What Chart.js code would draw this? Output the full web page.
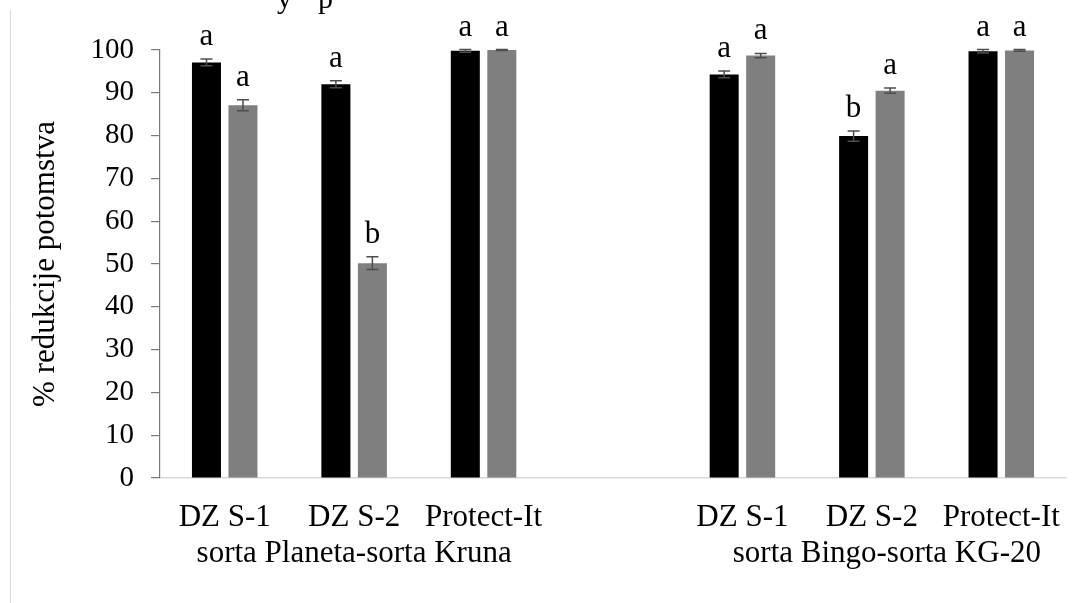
<!DOCTYPE html>
<html>
<head>
<meta charset="utf-8">
<script src="https://cdn.jsdelivr.net/npm/chart.js@4.4.1/dist/chart.umd.min.js"></script>
<style>
  body { margin: 0; background: #fff; }
  #wrap { width: 1080px; height: 603px; }
</style>
</head>
<body>
<div id="wrap"><canvas id="chart" width="1080" height="603"></canvas></div>
<script>
// treatments per slot, the empty slot separates the two variety pairs
const categories = ['DZ S-1', 'DZ S-2', 'Protect-It', '', 'DZ S-1', 'DZ S-2', 'Protect-It'];
const groupLabels = ['sorta Planeta-sorta Kruna', 'sorta Bingo-sorta KG-20'];
const groupFirst = [0, 4];
const groupLast = [2, 6];

// black = first variety, gray = second variety
const valuesBlack = [97.1, 92.0, 99.8, null, 94.3, 79.9, 99.7];
const valuesGray = [87.1, 50.2, 100, null, 98.7, 90.5, 99.9];
const errBlack = [0.8, 0.8, 0.3, null, 0.8, 1.2, 0.4];
const errGray = [1.3, 1.5, 0.1, null, 0.5, 0.6, 0.2];
const lettersBlack = ['a', 'a', 'a', '', 'a', 'b', 'a'];
const lettersGray = ['a', 'b', 'a', '', 'a', 'a', 'a'];

const yTicks = [0, 10, 20, 30, 40, 50, 60, 70, 80, 90, 100];

const serif = '"Liberation Serif", "Times New Roman", serif';

const errorBarsPlugin = {
    id: 'errorBars',
    afterDatasetsDraw(chart) {
        const ctx = chart.ctx;
        const y = chart.scales.y;
        const errs = [errBlack, errGray];
        const letters = [lettersBlack, lettersGray];
        ctx.save();
        chart.data.datasets.forEach(function (ds, di) {
            const meta = chart.getDatasetMeta(di);
            meta.data.forEach(function (bar, i) {
                const v = ds.data[i];
                if (v === null) return;
                const e = errs[di][i];
                const top = y.getPixelForValue(v + e);
                const bottom = y.getPixelForValue(v - e);
                ctx.strokeStyle = '#4d4d4d';
                ctx.lineWidth = 1.5;
                ctx.beginPath();
                ctx.moveTo(bar.x, top);
                ctx.lineTo(bar.x, bottom);
                ctx.moveTo(bar.x - 6, top);
                ctx.lineTo(bar.x + 6, top);
                ctx.moveTo(bar.x - 6, bottom);
                ctx.lineTo(bar.x + 6, bottom);
                ctx.stroke();

                ctx.fillStyle = '#000';
                ctx.font = '31px ' + serif;
                ctx.textAlign = 'center';
                ctx.textBaseline = 'alphabetic';
                ctx.fillText(letters[di][i], bar.x, top - 14);
            });
        });
        ctx.restore();
    },
    afterDraw(chart) {
        const ctx = chart.ctx;
        const x = chart.scales.x;
        const area = chart.chartArea;
        const shift = [0, 15];
        ctx.save();
        ctx.fillStyle = '#000';
        ctx.font = '31px ' + serif;
        ctx.textAlign = 'center';
        ctx.textBaseline = 'alphabetic';
        groupLabels.forEach(function (g, i) {
            const cx = (x.getPixelForValue(groupFirst[i]) + x.getPixelForValue(groupLast[i])) / 2;
            ctx.fillText(g, cx + shift[i], area.bottom + 84);
        });

        // cropped title, only the lower part survives in the picture
        ctx.font = '30px ' + serif;
        ctx.textAlign = 'left';
        ctx.fillText('y', 277, 8);
        ctx.fillText('p', 318, 8);

        // frame edge on the left
        ctx.strokeStyle = '#d9d9d9';
        ctx.lineWidth = 1;
        ctx.beginPath();
        ctx.moveTo(10.5, 10);
        ctx.lineTo(10.5, 603);
        ctx.stroke();
        ctx.restore();
    }
};

new Chart(document.getElementById('chart'), {
    type: 'bar',
    data: {
        labels: categories,
        datasets: [{
            label: 'black',
            data: valuesBlack,
            backgroundColor: '#000000',
            categoryPercentage: 0.564,
            barPercentage: 0.795
        }, {
            label: 'gray',
            data: valuesGray,
            backgroundColor: '#7f7f7f',
            categoryPercentage: 0.564,
            barPercentage: 0.795
        }]
    },
    options: {
        responsive: false,
        animation: false,
        devicePixelRatio: 1,
        layout: { padding: { top: 50, right: 14, left: 0, bottom: 0 } },
        plugins: {
            legend: { display: false },
            tooltip: { enabled: false }
        },
        scales: {
            x: {
                grid: { display: false },
                border: { display: true, color: '#d9d9d9', width: 1.5 },
                ticks: {
                    color: '#000',
                    font: { family: serif, size: 31 },
                    padding: 13,
                    maxRotation: 0,
                    autoSkip: false
                },
                afterFit: function (s) { s.height = 125; }
            },
            y: {
                min: 0,
                max: 100,
                afterBuildTicks: function (s) { s.ticks = yTicks.map(v => ({ value: v })); },
                grid: {
                    drawOnChartArea: false,
                    drawTicks: true,
                    tickLength: 9,
                    color: '#7a7a7a',
                    lineWidth: 1.2
                },
                border: { display: true, color: '#7a7a7a', width: 1.2 },
                ticks: {
                    color: '#000',
                    font: { family: serif, size: 29 },
                    padding: 17
                },
                title: {
                    display: true,
                    text: '% redukcije potomstva',
                    color: '#000',
                    font: { family: serif, size: 31 },
                    padding: { top: 27, bottom: 0 }
                },
                afterFit: function (s) { s.width = 160; }
            }
        }
    },
    plugins: [errorBarsPlugin]
});
</script>
</body>
</html>
